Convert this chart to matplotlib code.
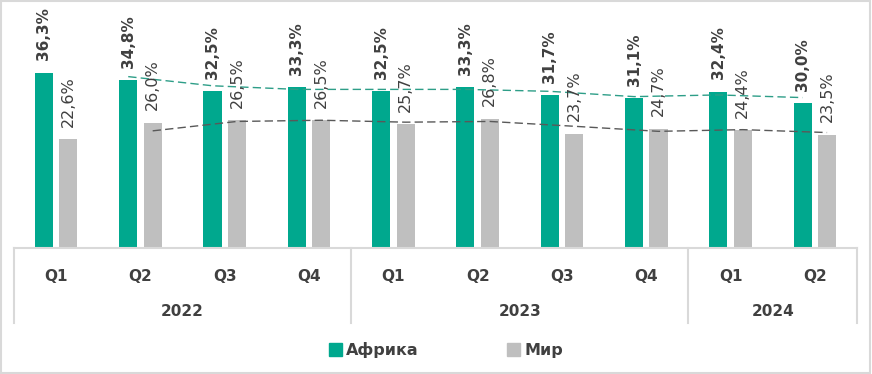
import numpy as np
import matplotlib
matplotlib.use("Agg")
import matplotlib.pyplot as plt
from matplotlib.patches import Rectangle, Patch
from matplotlib.transforms import blended_transform_factory

quarters = ["Q1", "Q2", "Q3", "Q4", "Q1", "Q2", "Q3", "Q4", "Q1", "Q2"]
years = ["2022", "2023", "2024"]
year_counts = [4, 4, 2]
africa = [36.3, 34.8, 32.5, 33.3, 32.5, 33.3, 31.7, 31.1, 32.4, 30.0]
world = [22.6, 26.0, 26.5, 26.5, 25.7, 26.8, 23.7, 24.7, 24.4, 23.5]
series_names = ["Африка", "Мир"]

teal = "#00A88E"
grey = "#BFBFBF"
txt = "#404040"

W, H = 872, 374
fig = plt.figure(figsize=(W / 100, H / 100), dpi=100)
fig.patches.append(Rectangle((0.001, 0.002), 0.997, 0.995, transform=fig.transFigure,
                             fill=False, edgecolor="#D9D9D9", linewidth=1.5))

left, right, bottom, top = 14, 857, 248, 10
ax = fig.add_axes([left / W, 1 - bottom / H, (right - left) / W, (bottom - top) / H])
ymax = 36.3 * (bottom - top) / (248 - 73)
ax.set_ylim(0, ymax)
ax.set_xlim(-0.5, len(quarters) - 0.5)

x = np.arange(len(quarters))
off = 0.145
bw = 0.215
ax.bar(x - off, africa, width=bw, color=teal, zorder=2)
ax.bar(x + off, world, width=bw, color=grey, zorder=2)

# 2-period moving average trendlines
ma_a = np.convolve(africa, [0.5, 0.5], mode="valid")
ma_w = np.convolve(world, [0.5, 0.5], mode="valid")
ax.plot(x[1:] - off, ma_a, color="#2E9E88", lw=1.0, ls=(0, (6, 3)), zorder=3)
ax.plot(x[1:] + off, ma_w, color="#595959", lw=1.0, ls=(0, (6, 3)), zorder=3)

for xi, v in zip(x, africa):
    ax.annotate(f"{v:.1f}%".replace(".", ","), (xi - off, v), xytext=(0, 9),
                textcoords="offset points", rotation=90, ha="center", va="bottom",
                fontsize=11, fontweight="bold", color=txt, family="DejaVu Sans")
for xi, v in zip(x, world):
    ax.annotate(f"{v:.1f}%".replace(".", ","), (xi + off, v), xytext=(0, 9),
                textcoords="offset points", rotation=90, ha="center", va="bottom",
                fontsize=11.5, color=txt, family="DejaVu Sans")

for s in ["top", "right", "left"]:
    ax.spines[s].set_visible(False)
ax.spines["bottom"].set_color("#D9D9D9")
ax.spines["bottom"].set_linewidth(1.5)
ax.set_yticks([])
ax.set_xticks(x)
ax.set_xticklabels(quarters, fontsize=11, fontweight="bold", color=txt, family="DejaVu Sans")
ax.tick_params(axis="x", length=0, pad=15)

# multi-level axis separators and year labels
tr = blended_transform_factory(ax.transData, ax.transAxes)
axh = bottom - top
ylow = -(323 - bottom) / axh
bounds = np.concatenate([[0], np.cumsum(year_counts)]) - 0.5
for b in bounds:
    ax.plot([b, b], [0, ylow], transform=tr, color="#D9D9D9", lw=1.5, clip_on=False)
for i, yname in enumerate(years):
    cx = (bounds[i] + bounds[i + 1]) / 2
    ax.text(cx, -(312 - bottom) / axh, yname, transform=tr, ha="center", va="center",
            fontsize=11, fontweight="bold", color=txt, family="DejaVu Sans")

handles = [Patch(color=teal), Patch(color=grey)]
leg = fig.legend(handles, series_names, loc="center", bbox_to_anchor=(446 / W, 1 - 350 / H),
                 ncol=2, frameon=False, handlelength=0.8, handleheight=0.8,
                 columnspacing=5.5, handletextpad=0.3,
                 prop={"size": 11.5, "weight": "bold", "family": "DejaVu Sans"})
for t in leg.get_texts():
    t.set_color(txt)

fig.savefig("out.png", dpi=100)
